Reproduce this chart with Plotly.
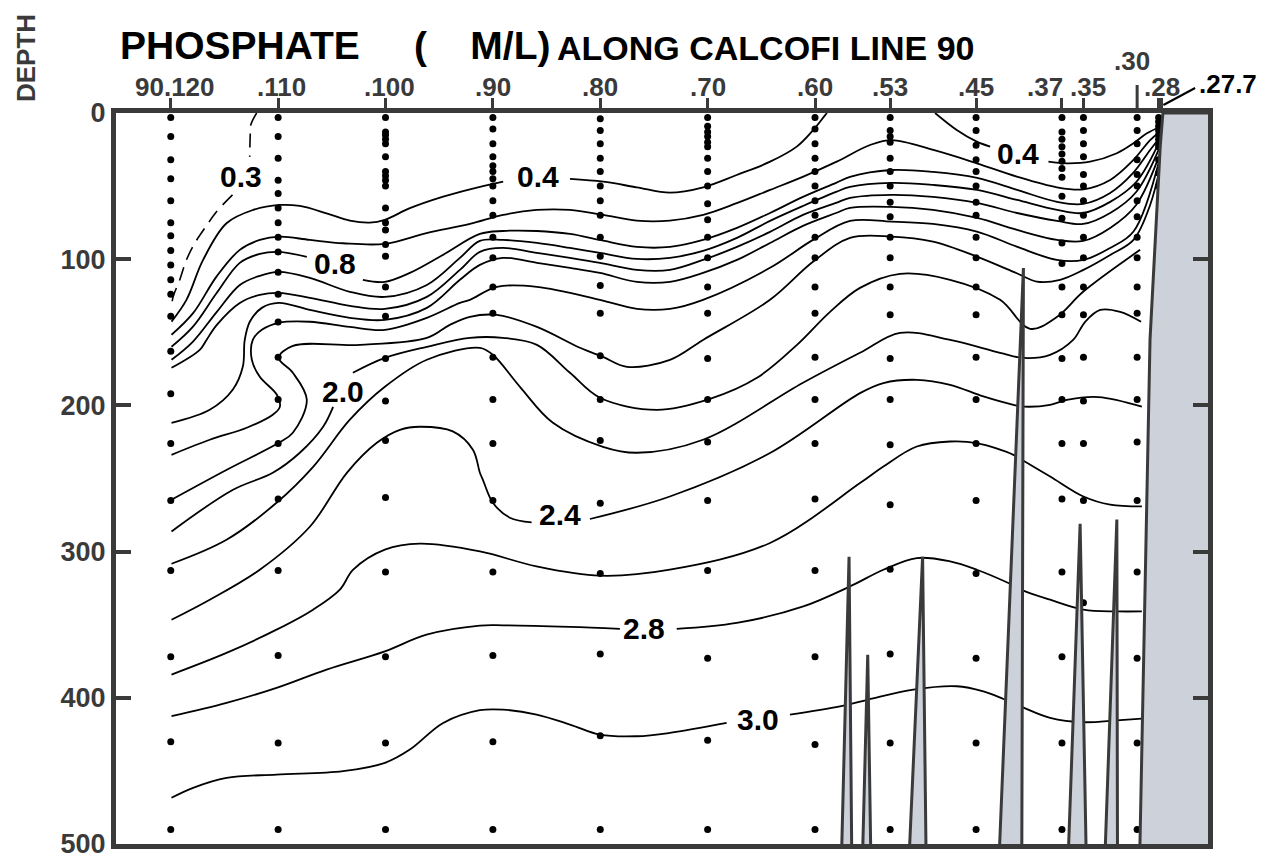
import plotly.graph_objects as go

# ---------------- data ----------------
stations = [120, 110, 100, 90, 80, 70, 60, 53, 45, 37, 35, 30, 28, 27.7]
station_labels = ["90.120", ".110", ".100", ".90", ".80", ".70", ".60", ".53", ".45",
                  ".37", ".35", ".30", ".28", ".27.7"]
depth_ticks = [0, 100, 200, 300, 400, 500]

# bottle sample depths (m) at each station
samples_120 = [3, 16, 32, 45, 60, 75, 84, 94, 104, 114, 124, 139, 163, 192, 226, 265, 313, 372, 430, 490]
samples_110 = [3, 16, 31, 46, 55, 65, 75, 85, 95, 109, 124, 143, 167, 196, 226, 264, 313, 371, 431, 490]
samples_100 = [3, 13, 15, 18, 21, 30, 40, 43, 46, 50, 65, 75, 80, 90, 98, 119, 139, 168, 197, 224, 263, 314, 372, 431, 490]
samples_90 = [3, 11, 21, 30, 36, 40, 45, 50, 60, 70, 85, 99, 119, 137, 167, 196, 226, 265, 314, 371, 430, 490]
samples_80 = [4, 12, 21, 31, 40, 50, 60, 70, 85, 98, 118, 137, 166, 196, 224, 267, 315, 370, 426, 490]
samples_70 = [3, 9, 13, 16, 20, 23, 31, 40, 50, 62, 73, 85, 99, 119, 137, 168, 196, 225, 265, 313, 373, 429, 490]
samples_60 = [3, 11, 21, 31, 40, 50, 60, 70, 85, 99, 119, 137, 167, 196, 226, 264, 313, 372, 432, 490]
samples_53 = [3, 12, 16, 20, 31, 40, 50, 61, 71, 85, 99, 119, 138, 168, 196, 227, 268, 312, 370, 431, 490]
samples_45 = [3, 12, 22, 32, 40, 50, 61, 70, 85, 99, 119, 138, 167, 196, 226, 265, 315, 373, 431, 490]
samples_37 = [3, 13, 18, 23, 28, 33, 38, 44, 57, 72, 89, 103, 119, 138, 168, 196, 226, 264, 314, 372, 431, 490]
samples_35 = [3, 12, 21, 30, 42, 50, 60, 70, 85, 99, 119, 138, 167, 197, 226, 265, 335]
samples_30 = [3, 12, 21, 32, 42, 50, 60, 71, 85, 99, 119, 137, 167, 196, 225, 265, 314, 373, 431, 490]
samples_28 = [3, 6, 9, 12, 15, 18, 21, 23, 32, 41, 50]

# contour lines (station number, depth m); None = gap left for a label
c03_st = [112.0, 112.55, 112.6, 112.65, None, 114.25, 115.74, 116.67, 117.76, 118.54, 119.16, 119.79, 119.93]
c03_dp = [0, 8.2, 15, 30, None, 56, 67.5, 77, 89, 100.5, 114, 126, 133]

c04a_st = [119.93, 118.54, 116.99, 114.81, 112.33, 109.84, 107.98, 105.49, 103.32, 101.46, 100.06, 97.73,
           94.63, 92.14, 89.04, None, 82.82, 79.72, 76.61, 73.52, 70.41, 67.29, 64.18, 61.7, 60.16, 59.05, 58.88]
c04a_dp = [142.7, 127.8, 100.5, 75.4, 66.3, 62.9, 63.6, 68.6, 73.6, 75, 73.1, 65.1,
           57.2, 52.2, 47, None, 45.1, 47, 50.8, 54.5, 50.8, 42.4, 33.3, 23, 11.6, 1.4, 0]

c04b_st = [48.82, 46.8, 44.93, 43.69, None, 38.26, 36.55, 34.38, 31.89, 30.34, 29.09, 27.85]
c04b_dp = [0, 11.6, 19.6, 23, None, 33.3, 34.4, 33.3, 27.5, 20.7, 13.9, 9.4]

c06_st = [119.93, 117.92, 115.74, 113.57, 111.71, 109.84, 107.05, 103.95, 100.06, 96.18, 92.14, 89.04,
          85.93, 82.82, 79.72, 76.61, 73.52, 70.41, 67.29, 64.18, 61.09, 57.98, 54.88, 52.85, 48.98,
          44.93, 41.21, 37.48, 35.0, 32.51, 30.34, 28.79, 27.85]
c06_dp = [151.7, 136.9, 111.9, 93.6, 86.8, 84.6, 86.8, 89.1, 89.5, 82.2, 75.9, 69.7,
          66.3, 66.3, 69.7, 73.6, 73.6, 69.7, 61.7, 52.6, 43.5, 33.3, 21.9, 18.5, 25.3,
          34.4, 43.5, 50.8, 52.2, 45.8, 32.1, 18.5, 12.8]

c08_st = [119.93, 117.95, 115.71, 113.57, 111.71, 109.94, 107.33, None, 102.11, 100.06, 97.73, 94.66,
          91.21, 89.07, 85.90, 82.82, 80.03, 76.58, 73.51, 70.43, 67.27, 64.19, 61.12, 58.04, 56.74,
          52.92, 49.01, 44.90, 41.18, 37.45, 35.03, 32.51, 30.37, 28.79, 27.85]
c08_dp = [159.9, 146.3, 123.0, 102.5, 96.4, 95.0, 98.4, None, 114.1, 115.5, 109.4, 97.1,
          82.7, 80.7, 80.7, 82.7, 86.8, 91.6, 91.6, 86.8, 78.6, 68.4, 57.4, 47.8, 43.7,
          39.0, 40.3, 44.4, 52.6, 60.8, 62.2, 54.7, 41.0, 25.3, 16.4]

c10_st = [119.93, 117.95, 115.71, 113.57, 111.71, 109.94, 107.05, 103.32, 100.06, 96.15, 93.07, 91.21,
          89.07, 85.90, 82.82, 80.03, 76.58, 73.51, 70.43, 67.27, 64.19, 61.12, 58.04, 56.74, 52.92,
          49.01, 44.90, 41.18, 37.45, 35.03, 32.51, 30.09, 27.85]
c10_dp = [168.8, 156.5, 136.0, 117.6, 111.4, 108.7, 112.8, 122.3, 125.8, 117.6, 99.1, 87.5,
          86.8, 88.9, 92.3, 95.7, 99.8, 99.1, 94.3, 85.4, 73.8, 63.6, 54.0, 50.6, 47.8,
          49.2, 52.6, 59.5, 66.3, 68.4, 60.8, 47.2, 18.5]

c12_st = [119.93, 117.30, 116.67, 115.71, 113.57, 111.71, 109.94, 107.05, 103.32, 100.06, 96.15, 93.07,
          91.21, 89.07, 85.90, 82.82, 80.03, 76.58, 73.51, 70.43, 67.27, 64.19, 61.12, 58.04, 56.74,
          52.92, 49.01, 44.90, 41.18, 37.45, 35.03, 32.51, 30.09, 27.85]
c12_dp = [174.3, 162.0, 155.2, 144.9, 129.9, 124.4, 123.0, 126.4, 131.9, 134.0, 125.8, 107.3,
          95.0, 92.3, 95.7, 99.1, 102.5, 107.3, 107.3, 100.5, 91.6, 81.3, 69.7, 61.5, 58.1,
          56.0, 57.4, 61.5, 68.4, 73.8, 75.9, 68.4, 54.0, 22.6]

c14_st = [119.93, 116.37, 114.23, 113.29, 113.11, 112.64, 111.52, 109.94, 107.05, 103.32, 100.06, 96.15,
          93.07, 91.21, 89.07, 85.90, 82.82, 80.03, 76.58, 73.51, 70.43, 67.27, 64.19, 61.12, 58.04,
          56.74, 52.92, 49.01, 44.90, 41.18, 37.45, 35.03, 32.51, 30.09, 27.85]
c14_dp = [211.9, 203.0, 189.3, 173.6, 155.2, 142.8, 133.3, 129.9, 134.7, 140.1, 141.5, 133.3,
          114.1, 103.9, 99.1, 102.5, 105.9, 109.4, 115.5, 115.5, 109.4, 100.5, 88.9, 77.2, 68.4,
          64.9, 64.2, 66.3, 71.8, 80.0, 86.8, 87.5, 78.6, 62.9, 27.3]

c16_st = [119.93, 116.37, 112.92, 110.50, 109.84, 110.12, 111.71, 112.45, 112.36, 111.52, 109.94, 107.05,
          103.32, 100.06, 96.15, 93.07, 92.14, 89.63, 85.90, 80.03, 76.58, 73.51, 70.43, 64.19, 60.19,
          56.74, 52.88, 49.01, 44.93, 41.21, 37.48, 35.0, 32.51, 30.34, 27.85]
c16_dp = [233.8, 223.5, 215.3, 206.4, 201.0, 192.7, 180.4, 168.8, 155.2, 148.3, 143.5, 142.8,
          146.3, 148.3, 140.1, 129.9, 127.8, 118.9, 118.9, 127.8, 134.0, 134.0, 127.8, 105.9, 86.8,
          73.8, 74.3, 75.9, 81.1, 91.4, 100.5, 100.5, 92.3, 81.1, 29.9]

c18_st = [119.93, 114.78, 109.94, 108.63, 107.33, 108.63, 109.94, 108.63, 102.39, 96.15, 94.01, 92.14,
          89.63, 85.90, 81.89, 79.75, 77.51, 73.51, 70.43, 64.19, 60.19, 56.74, 52.88, 49.01, 44.93,
          41.21, 39.35, 37.17, 35.0, 32.51, 30.34, 28.79, 27.85]
c18_dp = [264.5, 244.0, 225.6, 218.7, 196.2, 177.7, 167.5, 159.3, 158.6, 153.8, 144.9, 139.4,
          138.1, 146.3, 160.6, 166.8, 173.6, 168.8, 155.2, 127.8, 101.8, 85.4, 84.5, 88.0, 98.2,
          109.6, 115.3, 114.1, 107.3, 97.1, 86.8, 62.9, 36.7]

c20_st = [119.93, 114.20, 110.50, 107.98, 105.81, 104.88, None, 103.04, 100.06, 96.15, 92.14, 89.07,
          85.90, 82.82, 80.03, 74.72, 69.78, 65.40, 61.68, 58.60, 55.81, 52.08, 47.42, 42.76, 39.97,
          37.45, 35.03, 29.72]
c20_dp = [286.2, 257.7, 246.1, 232.4, 214.6, 201.0, None, 177.7, 167.5, 159.9, 153.8, 153.8,
          158.6, 177.7, 194.8, 203.0, 195.5, 181.1, 158.6, 136.0, 119.6, 110.0, 114.1, 127.8, 147.6,
          139.4, 122.3, 93.6]

c22_st = [119.93, 114.81, 110.15, 106.74, 103.32, 100.06, 96.15, 91.21, 90.0, 87.48, 84.41, 79.75,
          76.58, 70.43, 61.12, 55.81, 52.08, 47.42, 42.76, 40.62, 38.11, 35.96, 34.84, 33.44, 31.58, 29.63]
c22_dp = [308.3, 291.9, 266.6, 242.0, 209.8, 187.3, 168.8, 160.6, 165.4, 187.3, 211.9, 228.3,
          232.4, 223.5, 184.5, 164.0, 150.4, 155.2, 164.0, 167.5, 165.4, 155.2, 142.8, 134.7, 136.0, 142.8]

c24_st = [119.93, 116.37, 111.71, 107.05, 103.6, 100.81, 98.66, 96.8, 93.73, 91.86, 91.21, 90.93, 90.0,
          88.42, 86.39, None, 80.96, 73.52, 64.19, 55.81, 53.63, 50.52, 47.42, 44.32, 41.52, 40.59,
          38.1, 36.55, 33.6, 29.56]
c24_dp = [346.6, 332.9, 312.4, 283, 246.1, 225.6, 216.7, 214.6, 217.8, 230.3, 246.1, 250.9, 266.6,
          276.8, 280, None, 277.7, 262.3, 232.6, 191.6, 184.7, 182.5, 185.9, 193.9, 199.6, 200.8,
          199.6, 196.2, 194.3, 200.8]

c26_st = [119.93, 114.81, 110.15, 106.74, 104.25, 103.01, 100.06, 96.8, 91.21, 85.93, 80.03, 73.52,
          64.19, 55.81, 53.63, 50.52, 47.42, 44.93, 41.52, 40.74, 38.1, 35.0, 32.51, 29.56]
c26_dp = [384.1, 369.3, 353.4, 339.7, 326, 312.4, 298.7, 294.6, 299.9, 310.1, 316.5, 312.4,
          294.1, 253.1, 241.8, 228.1, 224.7, 225.8, 233.8, 237.2, 248.6, 262.3, 267.9, 269.1]

c28_st = [119.93, 114.81, 110.15, 105.49, 100.06, 96.18, 91.21, 89.04, 82.82, 78.17, None, 72.88, 67.29,
          61.09, 56.74, 53.63, 50.52, 47.42, 44.93, 41.99, 40.59, 38.1, 35.0, 31.89, 29.56]
c28_dp = [412.6, 403.5, 393.2, 380.7, 368.2, 356.8, 350.6, 350.4, 351.5, 352.9, None, 352.9, 348.8,
          337.5, 323.8, 312.4, 304.4, 306.7, 312.4, 321.5, 326.7, 332.9, 339.7, 340.9, 340.9]

c30_st = [119.93, 117.92, 114.81, 110.15, 103.95, 100.06, 97.73, 94.63, 91.21, 89.04, 85.93, 82.82,
          80.03, 76.61, 73.52, 68.23, None, 62.33, 57.67, 55.03, 50.84, 46.8, 44.32, 42.45, 40.74,
          38.1, 35.0, 31.89, 29.56]
c30_dp = [468.4, 461.6, 454.8, 452.5, 450.2, 444.5, 435.4, 417.2, 408.5, 408.1, 411.5, 418.3,
          425.2, 426.3, 424, 417.2, None, 411.5, 405.8, 401.2, 394.4, 392.1, 395.6, 400.8, 406.2,
          413.7, 416.7, 415.4, 414.2]

# contour labels
label_text = ["0.3", "0.4", "0.8", "2.0", "2.4", "2.8", "3.0", "0.4"]
label_st = [113.5, 85.81, 104.72, 103.97, 83.76, 75.93, 65.31, 41.08]
label_dp = [43.4, 43.7, 103.2, 190.7, 274.8, 352.7, 414.9, 28]

# bottom topography: seamount spikes (left base, peak, right base) and the shelf
spike_base_left = [57.52, 55.56, 51.21, 42.83, 36.40, 32.98]
spike_peak_st = [56.83, 55.09, 49.98, 40.59, 35.31, 31.89]
spike_peak_dp = [303.5, 370.5, 303.5, 106, 281, 278]
spike_base_right = [56.58, 54.81, 49.66, 40.74, 34.75, 31.83]
shelf_st = [29.75, 29.25, 28.8, 27.85, 27.6, 20, 20]
shelf_dp = [505, 330, 155, 23, 0, 0, 505]

# ---------------- figure ----------------
INK = "#3a3a3a"
FILL = "#cdd1d9"
LBL = "Liberation Sans, Arial, sans-serif"
fig = go.Figure()

solid = [(c04a_st, c04a_dp), (c04b_st, c04b_dp), (c06_st, c06_dp), (c08_st, c08_dp),
         (c10_st, c10_dp), (c12_st, c12_dp), (c14_st, c14_dp), (c16_st, c16_dp), (c18_st, c18_dp),
         (c20_st, c20_dp), (c22_st, c22_dp), (c24_st, c24_dp), (c26_st, c26_dp), (c28_st, c28_dp),
         (c30_st, c30_dp)]
for xs, ys in solid:
    fig.add_trace(go.Scatter(x=xs, y=ys, mode="lines", connectgaps=False,
                             line=dict(color="black", width=1.8, shape="spline", smoothing=1.0),
                             hoverinfo="skip", showlegend=False))
fig.add_trace(go.Scatter(x=c03_st, y=c03_dp, mode="lines", connectgaps=False,
                         line=dict(color="black", width=1.6, shape="spline", smoothing=1.0,
                                   dash="14px,8px"),
                         hoverinfo="skip", showlegend=False))

sample_sets = [(120, samples_120), (110, samples_110), (100, samples_100), (90, samples_90),
               (80, samples_80), (70, samples_70), (60, samples_60), (53, samples_53),
               (45, samples_45), (37, samples_37), (35, samples_35), (30, samples_30), (28, samples_28)]
dx, dy = [], []
for st, dl in sample_sets:
    dx += [st] * len(dl)
    dy += dl
fig.add_trace(go.Scatter(x=dx, y=dy, mode="markers", marker=dict(color="black", size=7),
                         hoverinfo="skip", showlegend=False))

for bl, ps, pd, br in zip(spike_base_left, spike_peak_st, spike_peak_dp, spike_base_right):
    fig.add_trace(go.Scatter(x=[bl, ps, br, bl], y=[505, pd, 505, 505], mode="lines",
                             fill="toself", fillcolor=FILL, line=dict(color=INK, width=3),
                             hoverinfo="skip", showlegend=False))
fig.add_trace(go.Scatter(x=shelf_st, y=shelf_dp, mode="lines", fill="toself", fillcolor=FILL,
                         line=dict(color=INK, width=3), hoverinfo="skip", showlegend=False))

for t, s, d in zip(label_text, label_st, label_dp):
    fig.add_annotation(x=s, y=d, text=t, showarrow=False,
                       font=dict(family=LBL, size=30, color="black", weight="bold"))

# station labels along the top
shift_x = {"90.120": 4, ".110": 3, ".100": 4, ".37": -17, ".35": 5, ".30": -5, ".28": 3, ".27.7": 66}
shift_y = {".30": 52, ".27.7": 29}
for st, lab in zip(stations, station_labels):
    fig.add_annotation(x=st, y=1, xref="x", yref="paper", text=lab, showarrow=False,
                       xshift=shift_x.get(lab, 0), yshift=shift_y.get(lab, 26),
                       xanchor="center", yanchor="middle",
                       font=dict(family=LBL, size=26, weight="bold",
                                 color="black" if lab == ".27.7" else INK))

PH = 731.0
PW = 1092.0
fig.add_shape(type="line", x0=30, x1=30, y0=1, y1=1 + 28 / PH, xref="x", yref="paper",
              line=dict(color=INK, width=3))
fig.add_shape(type="line", x0=27.55, x1=24.6, y0=1 + 8 / PH, y1=1 + 25 / PH, xref="x", yref="paper",
              line=dict(color="black", width=2))

fig.add_annotation(x=2 / PW, y=1 + 68 / PH, xref="paper", yref="paper", xanchor="left", yanchor="middle",
                   text="PHOSPHATE\u00a0\u00a0\u00a0\u00a0\u00a0(\u00a0\u00a0\u00a0\u00a0M/L)", showarrow=False,
                   font=dict(family=LBL, size=39, color="black", weight="bold"))
fig.add_annotation(x=439 / PW, y=1 + 65 / PH, xref="paper", yref="paper", xanchor="left",
                   yanchor="middle", text="ALONG CALCOFI LINE 90", showarrow=False,
                   font=dict(family=LBL, size=34, color="black", weight="bold"))
fig.add_annotation(x=-90 / PW, y=1 + 55 / PH, xref="paper", yref="paper", text="DEPTH",
                   textangle=-90, showarrow=False, xanchor="center", yanchor="middle",
                   borderpad=0, font=dict(family=LBL, size=26, color=INK, weight="bold"))

# the page adds an 8 px body margin, so the figure is 8 px smaller than the window
fig.update_layout(
    width=1268, height=852, margin=dict(l=108, r=68, t=105, b=16, autoexpand=False),
    paper_bgcolor="white", plot_bgcolor="white", showlegend=False,
    xaxis=dict(range=[125.1, 23.4], side="top", showline=True, linewidth=5, linecolor=INK, mirror=True,
               ticks="outside", ticklen=10, tickwidth=3, tickcolor=INK, automargin=False,
               tickvals=[s for s in stations if s != 30], showticklabels=False,
               showgrid=False, zeroline=False),
    yaxis=dict(range=[500, 0], showline=True, linewidth=5, linecolor=INK, mirror="ticks",
               ticks="inside", ticklen=15, tickwidth=4, tickcolor=INK, tickvals=depth_ticks,
               automargin=False,
               tickfont=dict(family=LBL, size=27, color=INK, weight="bold"),
               showgrid=False, zeroline=False),
)
fig.write_html("out.html")
